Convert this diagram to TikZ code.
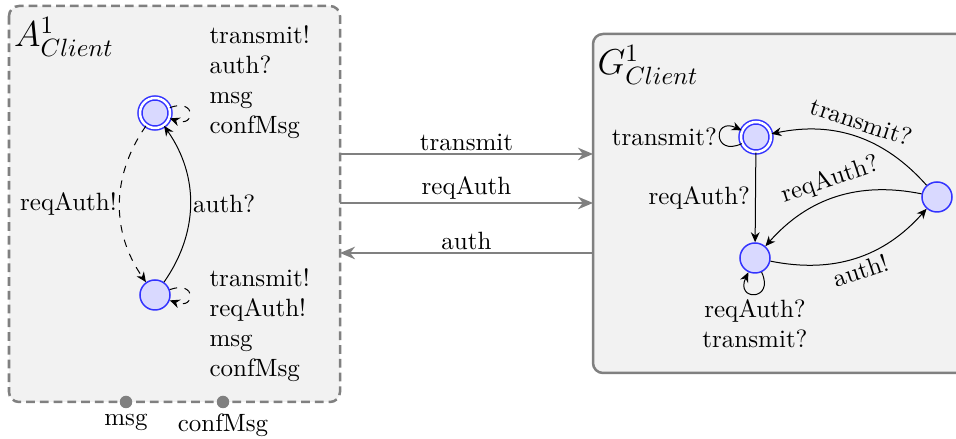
\documentclass[tikz,border=0pt]{standalone}
\usepackage{amsmath}
\usepackage{tikz}
\usepackage{xcolor}
\usetikzlibrary{arrows.meta}

\tikzset{
    loc/.style={
        circle,
        draw=blue!80,
        fill=blue!15,
        semithick,
        minimum size=12pt,
        inner sep=0pt
    },
    accloc/.style={
        loc,
        double=white,
        double distance=1pt
    },
    chan/.style={
        draw=gray,
        line width=0.9pt,
        -{Stealth[length=6pt,width=5pt]}
    },
    port/.style={
        circle,
        fill=gray,
        inner sep=0pt,
        minimum size=5pt
    }
}

\begin{document}
\begin{tikzpicture}[
    x=0.4pt, y=0.4pt,
    >={Stealth[length=4pt,width=3.5pt]}
]

    \useasboundingbox (0,0) rectangle (956,439);

    %------------------------------------------------
    % Assumption automaton
    %------------------------------------------------

    \draw[
        fill=gray!10,
        draw=gray,
        line width=1pt,
        dash pattern=on 3.5pt off 2pt,
        rounded corners=4pt
    ]
    (9,433) rectangle (340,37);

    \node[font=\Large] (Atitle) at (64,402) {$A^1_{Client}$};

    \node[accloc] (a0) at (155,326) {};
    \node[loc] (a1) at (155,144) {};

    \draw[->,dashed]
        (a0) to[bend right=35]
        node[left,inner sep=1pt]{reqAuth!} (a1);

    \draw[->]
        (a1) to[bend right=35]
        node[right,inner sep=1pt]{auth?} (a0);

    \draw[->,dashed]
        (a0) to[out=20,in=-20,loop,min distance=4mm] (a0);

    \draw[->,dashed]
        (a1) to[out=20,in=-20,loop,min distance=4mm] (a1);

    \node[anchor=west,align=left,inner sep=0pt]
        (a0inv) at (209,357)
        {transmit!\\auth?\\msg\\confMsg};

    \node[anchor=west,align=left,inner sep=0pt]
        (a1inv) at (209,114)
        {transmit!\\reqAuth!\\msg\\confMsg};

    %------------------------------------------------
    % Ports
    %------------------------------------------------

    \node[port] (pmsg) at (126,37) {};
    \node[port] (pconf) at (223,37) {};

    \node[below,inner sep=2pt] (lmsg) at (pmsg.south) {msg};
    \node[below,inner sep=2pt] (lconf) at (pconf.south) {confMsg};

    %------------------------------------------------
    % Guarantee automaton
    %------------------------------------------------

    \draw[
        fill=gray!10,
        draw=gray,
        line width=1pt,
        rounded corners=4pt
    ]
    (593,405) rectangle (980,66);

    \node[font=\Large] (Gtitle) at (648,374) {$G^1_{Client}$};

    \node[accloc] (g0) at (756,302) {};
    \node[loc] (g1) at (755,181) {};
    \node[loc] (g2) at (937,242) {};

    \draw[->]
        (g0) -- node[left,inner sep=2pt]{reqAuth?} (g1);

    \draw[->]
        (g2) to[bend right=30]
        node[sloped,above,inner sep=2.5pt]{transmit?} (g0);

    \draw[->]
        (g2) to[bend right=30]
        node[sloped,above,inner sep=2.5pt]{reqAuth?} (g1);

    \draw[->]
        (g1) to[bend right=30]
        node[sloped,below,inner sep=1.5pt]{auth!} (g2);

    \draw[->]
        (g0) to[out=205,in=155,loop,min distance=4.5mm]
        node[left,inner sep=1pt]{transmit?} (g0);

    \draw[->]
        (g1) to[out=-65,in=-115,loop,min distance=4.5mm]
        node[below,align=center,inner sep=2pt]{reqAuth?\\transmit?} (g1);

    %------------------------------------------------
    % Channels
    %------------------------------------------------

    \coordinate (aT) at (340,285);
    \coordinate (gT) at (593,285);
    \coordinate (aR) at (340,236);
    \coordinate (gR) at (593,236);
    \coordinate (aA) at (340,186);
    \coordinate (gA) at (593,186);

    \draw[chan] (aT) -- node[above,inner sep=1pt,text=black]{transmit} (gT);
    \draw[chan] (aR) -- node[above,inner sep=1pt,text=black]{reqAuth} (gR);
    \draw[chan] (gA) -- node[above,inner sep=1pt,text=black]{auth} (aA);

\end{tikzpicture}
\end{document}
